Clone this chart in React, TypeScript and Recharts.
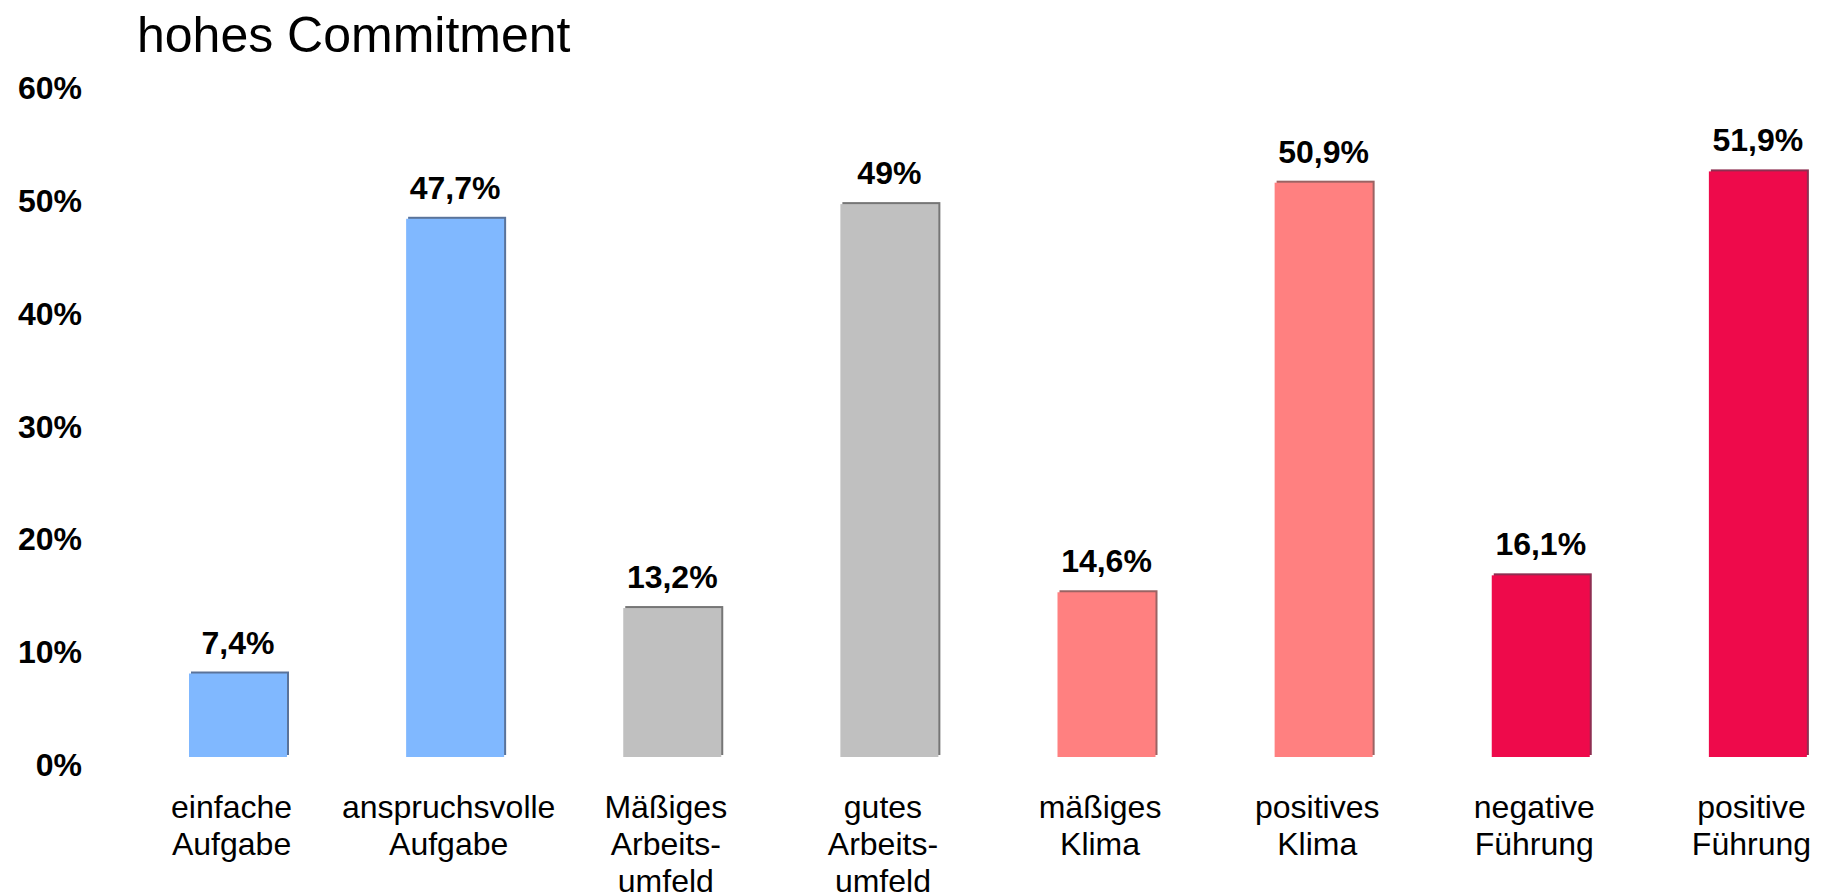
import { Bar, BarChart, Cell, LabelList, XAxis, YAxis } from 'recharts';

const categories = [
  'einfache\nAufgabe',
  'anspruchsvolle\nAufgabe',
  'Mäßiges\nArbeits-\numfeld',
  'gutes\nArbeits-\numfeld',
  'mäßiges\nKlima',
  'positives\nKlima',
  'negative\nFührung',
  'positive\nFührung',
];
const values = [7.4, 47.7, 13.2, 49, 14.6, 50.9, 16.1, 51.9];
const yTicks = [0, 10, 20, 30, 40, 50, 60];

const barColors = ['#80b8ff', '#80b8ff', '#c0c0c0', '#c0c0c0', '#ff8080', '#ff8080', '#ee0a4b', '#ee0a4b'];
const edgeColors = ['#3d5a88', '#3d5a88', '#5e5e5e', '#5e5e5e', '#8a4848', '#8a4848', '#7a0a32', '#7a0a32'];

const FONT = '"Liberation Sans", Arial, sans-serif';

const data = categories.map((c, i) => ({ name: c, value: values[i] }));

function fmt(v: number) {
  return `${String(v).replace('.', ',')}%`;
}

function ShadowBar(props: any) {
  const { x, y, width, height, index } = props;
  if (!height) return null;
  return (
    <g>
      <rect x={x + 2} y={y - 2} width={width} height={height} fill={edgeColors[index]} opacity={0.85} />
      <rect x={x} y={y} width={width} height={height} fill={barColors[index]} />
    </g>
  );
}

function YTick(props: any) {
  const { y, payload } = props;
  return (
    <text x={82} y={y + 19} textAnchor="end" fontFamily={FONT} fontWeight="bold" fontSize={32} fill="#000">
      {payload.value}%
    </text>
  );
}

function XTick(props: any) {
  const { x, y, payload } = props;
  const lines = String(payload.value).split('\n');
  return (
    <text x={x - 6} y={y} textAnchor="middle" fontFamily={FONT} fontSize={32} fill="#000">
      {lines.map((l, i) => (
        <tspan key={i} x={x - 6} y={y + 53 + i * 37}>
          {l}
        </tspan>
      ))}
    </text>
  );
}

function ValueLabel(props: any) {
  const { x, y, width, value } = props;
  return (
    <text
      x={x + width / 2}
      y={y - 20}
      textAnchor="middle"
      fontFamily={FONT}
      fontWeight="bold"
      fontSize={32}
      fill="#000"
    >
      {fmt(value)}
    </text>
  );
}

export default function App() {
  return (
    <div style={{ position: 'relative', width: 1825, height: 895, overflow: 'hidden', background: '#fff' }}>
      <style>{'body{margin:0}'}</style>
      <svg width={1825} height={70} style={{ position: 'absolute', left: 0, top: 0 }}>
        <text x={137} y={52} fontFamily={FONT} fontSize={50} fill="#000">
          hohes Commitment
        </text>
      </svg>
      <div style={{ position: 'absolute', left: 0, top: 0 }}>
        <BarChart width={1880} height={895} data={data} margin={{ top: 80, right: 14, left: 0, bottom: 0 }}>
          <XAxis
            dataKey="name"
            axisLine={false}
            tickLine={false}
            height={138}
            interval={0}
            tick={<XTick />}
          />
          <YAxis
            domain={[0, 60]}
            ticks={yTicks}
            width={129}
            axisLine={false}
            tickLine={false}
            tick={<YTick />}
          />
          <Bar dataKey="value" barSize={98} shape={<ShadowBar />} isAnimationActive={false}>
            {data.map((d, i) => (
              <Cell key={d.name} fill={barColors[i]} />
            ))}
            <LabelList dataKey="value" content={<ValueLabel />} />
          </Bar>
        </BarChart>
      </div>
    </div>
  );
}
